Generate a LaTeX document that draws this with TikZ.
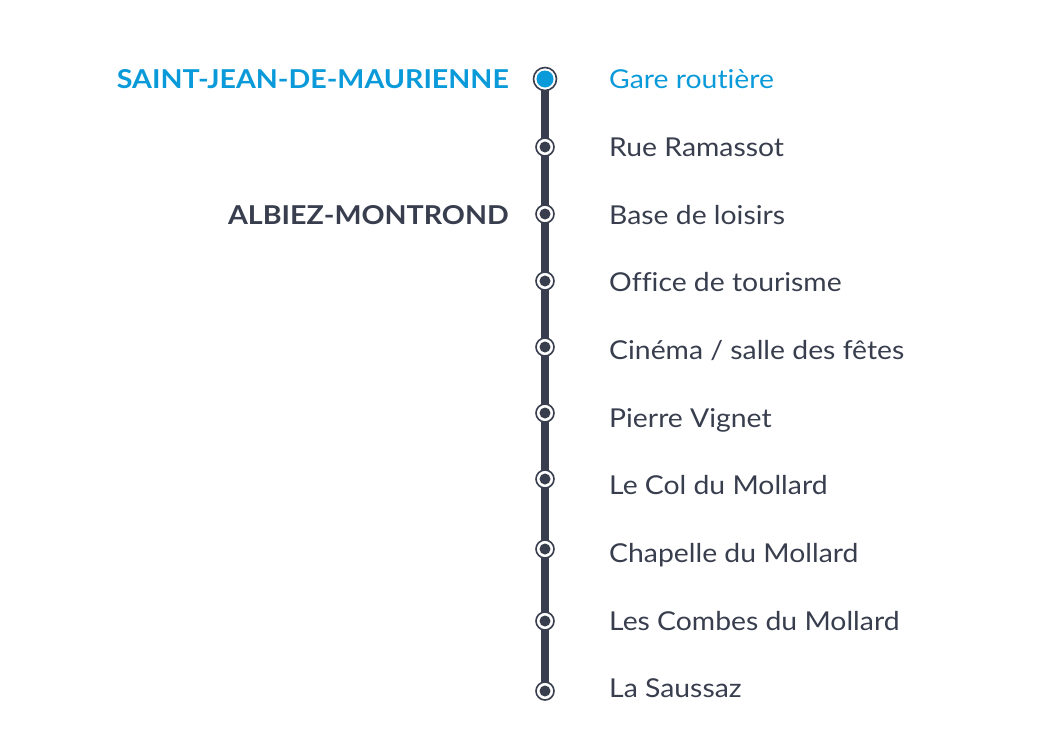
\documentclass[tikz,border=0pt]{standalone}
\usepackage{fontspec}
\setmainfont{Lato}[Ligatures=NoCommon, FakeStretch=1.09, BoldFeatures={FakeStretch=1.10}]
\definecolor{lblue}{HTML}{0A9AD9}
\definecolor{ldark}{HTML}{383E4E}
\tikzset{
  x=1pt,y=-1pt,
  stopname/.style={anchor=base west, font=\fontsize{26}{26}\selectfont, text=ldark, inner sep=0pt},
  townname/.style={anchor=base east, font=\fontsize{26}{26}\selectfont\bfseries, text=ldark, inner sep=0pt},
  ring/.style={circle, draw=ldark, fill=white, line width=1.6pt, minimum size=18pt, inner sep=0pt},
  bigring/.style={circle, draw=ldark, fill=white, line width=1.6pt, minimum size=23pt, inner sep=0pt},
}
\begin{document}
\begin{tikzpicture}
\useasboundingbox (0,0) rectangle (1037,753);
\coordinate (s1) at (545,79);
\coordinate (s10) at (545,692);
\draw[ldark, line width=8.5pt] (s1) -- (s10);
\node[bigring] (n1) at (545,79) {};
\fill[lblue] (n1.center) circle (8.5);
\foreach \i/\y in {2/147,3/214,4/281,5/347,6/413,7/479,8/549,9/621,10/691}{
  \node[ring] (n\i) at (545,\y) {};
  \fill[ldark] (n\i.center) circle (5.5);
}
\node[stopname, text=lblue] (t1) at (609,88.5) {Gare routière};
\node[stopname] (t2) at (609,156.5) {Rue Ramassot};
\node[stopname] (t3) at (609,224) {Base de loisirs};
\node[stopname] (t4) at (609,291.5) {Office de tourisme};
\node[stopname] (t5) at (609,359) {Cinéma / salle des fêtes};
\node[stopname] (t6) at (609,427) {Pierre Vignet};
\node[stopname] (t7) at (609,494) {Le Col du Mollard};
\node[stopname] (t8) at (609,562) {Chapelle du Mollard};
\node[stopname] (t9) at (609,630) {Les Combes du Mollard};
\node[stopname] (t10) at (609,697.5) {La Saussaz};
\node[townname, text=lblue] (c1) at (509,88.5) {SAINT-JEAN-DE-MAURIENNE};
\node[townname] (c2) at (509,224) {ALBIEZ-MONTROND};
\end{tikzpicture}
\end{document}
